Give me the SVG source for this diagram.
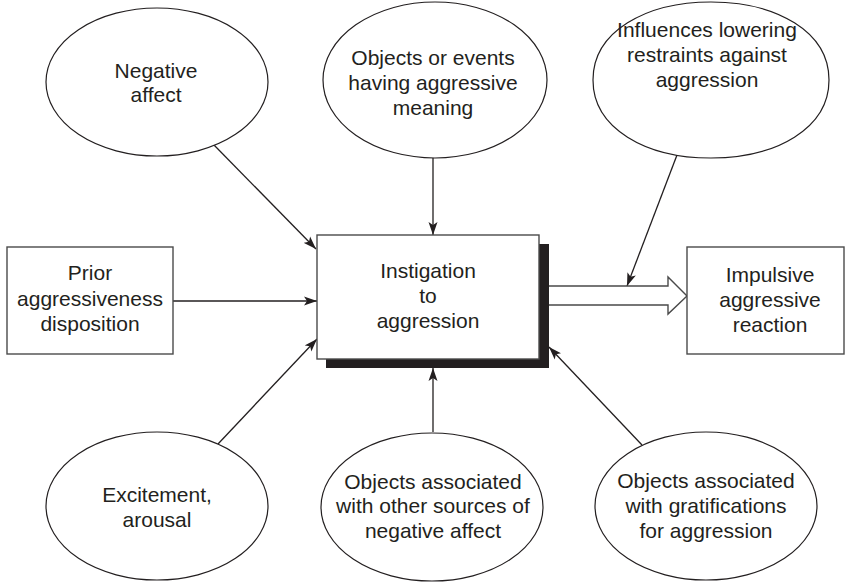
<svg xmlns="http://www.w3.org/2000/svg" width="845" height="582" viewBox="0 0 845 582">
  <style>
    .lbl { font-family: "Liberation Sans", Arial, Helvetica, sans-serif; font-size: 21px; fill: #231f20; text-anchor: middle; }
    .oval { fill: #ffffff; stroke: #231f20; stroke-width: 1.2; }
    .box { fill: #ffffff; stroke: #4a4a4a; stroke-width: 1.4; }
    .wire { fill: none; stroke: #231f20; stroke-width: 1.3; marker-end: url(#tip); }
  </style>
  <defs>
    <marker id="tip" markerUnits="userSpaceOnUse" markerWidth="14" markerHeight="10" viewBox="0 0 14 10" refX="13" refY="5" orient="auto">
      <path d="M0,0.5 L13,5 L0,9.5 L3,5 Z" fill="#231f20"/>
    </marker>
  </defs>
  <rect width="845" height="582" fill="#ffffff"/>

  <!-- connectors -->
  <g id="connectors">
    <line class="wire" x1="214" y1="145" x2="316" y2="249"/>
    <line class="wire" x1="433" y1="158" x2="433" y2="235"/>
    <line class="wire" x1="173" y1="301" x2="317" y2="301"/>
    <line class="wire" x1="218" y1="444" x2="317" y2="339"/>
    <line class="wire" x1="433" y1="432" x2="433" y2="368"/>
    <line class="wire" x1="642" y1="445" x2="549" y2="347"/>
    <line class="wire" x1="677" y1="155" x2="627" y2="286"/>
    <!-- hollow block arrow towards the reaction -->
    <path d="M549,286 L668,286 L668,277 L687,296 L668,314 L668,305 L549,305" fill="#ffffff" stroke="#4a4a4a" stroke-width="1.4" stroke-linejoin="miter"/>
  </g>

  <g id="negative-affect">
    <ellipse class="oval" cx="157" cy="82" rx="111" ry="74"/>
    <text class="lbl" x="156" y="78">Negative</text>
    <text class="lbl" x="156" y="102">affect</text>
  </g>

  <g id="aggressive-meaning">
    <ellipse class="oval" cx="435" cy="80" rx="112" ry="78"/>
    <text class="lbl" x="433" y="65">Objects or events</text>
    <text class="lbl" x="433" y="90">having aggressive</text>
    <text class="lbl" x="433" y="115">meaning</text>
  </g>

  <g id="lowering-restraints">
    <!-- slightly fuller oval so the top line sits inside the outline -->
    <path class="oval" d="M829,80 C829,31.6 776.2,2 711,2 C645.8,2 593,31.6 593,80 C593,128.4 645.8,158 711,158 C776.2,158 829,128.4 829,80 Z"/>
    <text class="lbl" x="707" y="37">Influences lowering</text>
    <text class="lbl" x="707" y="62">restraints against</text>
    <text class="lbl" x="707" y="87">aggression</text>
  </g>

  <g id="prior-disposition">
    <rect class="box" x="7" y="247" width="166" height="107"/>
    <text class="lbl" x="90" y="280">Prior</text>
    <text class="lbl" x="90" y="306">aggressiveness</text>
    <text class="lbl" x="90" y="331">disposition</text>
  </g>

  <g id="instigation">
    <rect x="326" y="244" width="223" height="124" fill="#231f20"/>
    <rect class="box" x="317" y="235" width="222" height="124"/>
    <text class="lbl" x="428" y="278">Instigation</text>
    <text class="lbl" x="428" y="303">to</text>
    <text class="lbl" x="428" y="328">aggression</text>
  </g>

  <g id="impulsive-reaction">
    <rect class="box" x="687" y="247" width="157" height="107"/>
    <text class="lbl" x="770" y="282">Impulsive</text>
    <text class="lbl" x="770" y="307">aggressive</text>
    <text class="lbl" x="770" y="332">reaction</text>
  </g>

  <g id="excitement">
    <ellipse class="oval" cx="157" cy="506" rx="111" ry="74"/>
    <text class="lbl" x="157" y="502">Excitement,</text>
    <text class="lbl" x="157" y="527">arousal</text>
  </g>

  <g id="other-sources">
    <ellipse class="oval" cx="432" cy="507" rx="111" ry="74"/>
    <text class="lbl" x="433" y="489">Objects associated</text>
    <text class="lbl" x="433" y="513">with other sources of</text>
    <text class="lbl" x="433" y="538">negative affect</text>
  </g>

  <g id="gratifications">
    <ellipse class="oval" cx="706" cy="506" rx="111" ry="74"/>
    <text class="lbl" x="706" y="488">Objects associated</text>
    <text class="lbl" x="706" y="513">with gratifications</text>
    <text class="lbl" x="706" y="538">for aggression</text>
  </g>
</svg>
